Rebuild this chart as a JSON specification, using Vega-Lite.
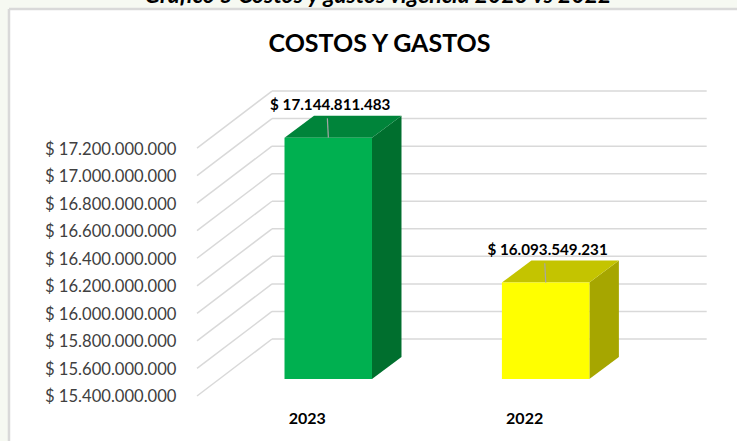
{
"$schema":"https://vega.github.io/schema/vega-lite/v6.json",
"width":737,"height":441,"padding":0,
"autosize":{"type":"none"},
"background":"#ffffff",
"config":{"view":{"stroke":null},"font":"Lato"},
"datasets":{
 "bars":[{"year":"2023","value":17144811483,"order":1},{"year":"2022","value":16093549231,"order":2}],
 "ticks":[{"tick":15400000000},{"tick":15600000000},{"tick":15800000000},{"tick":16000000000},{"tick":16200000000},{"tick":16400000000},{"tick":16600000000},{"tick":16800000000},{"tick":17000000000},{"tick":17200000000}]
},
"layer":[
 {"data":{"values":[{"a":-0.50989,"b":2.88018,"c":18.2096e9,"d":18.27477e9},{"a":-0.50989,"b":-0.4685,"c":15.07332e9,"d":18.27477e9}]},
  "mark":{"type":"rect","color":"#f6f9f2"},
  "encoding":{"x":{"field":"a","type":"quantitative","scale":{"domain":[-0.50989,2.88018],"range":[0,737],"nice":false,"zero":false},"axis":null},"x2":{"field":"b"},
   "y":{"field":"c","type":"quantitative","scale":{"domain":[15.07332e9,18.27477e9],"range":[441,0],"nice":false,"zero":false},
     "axis":{"values":[15400000000,15600000000,15800000000,16000000000,16200000000,16400000000,16600000000,16800000000,17000000000,17200000000],"title":null,"domain":false,"ticks":false,"grid":false,"labelPadding":-176,"labelOffset":1,"labelFontSize":16.6,"labelColor":"#404040","labelFont":"Lato","labelBound":false,"labelOverlap":false,"labelExpr":"'$ ' + replace(format(datum.value,',.0f'), regexp(',','g'), '.')"}},
   "y2":{"field":"d"}}},
 {"data":{"values":[{"a":-0.4685,"b":2.88018,"c":18.2096e9},{"a":-0.4685,"b":-0.4685,"c":15.07332e9}]},
  "mark":{"type":"rule","color":"#d9d9d9","strokeWidth":2.5},
  "encoding":{"x":{"field":"a","type":"quantitative"},"x2":{"field":"b"},"y":{"field":"c","type":"quantitative"},"y2":{"datum":18.2096e9}}},
 {"data":{"values":[{"t":"Gráfico 5 Costos y gastos vigencia 2023 vs 2022"}]},
  "mark":{"type":"text","font":"Lato","fontSize":23,"fontWeight":"bold","fontStyle":"italic","color":"#000000","align":"center","baseline":"alphabetic"},
  "encoding":{"x":{"datum":1.2288},"y":{"datum":18.2530e9},"text":{"field":"t"}}},
 {"data":{"values":[{"t":"COSTOS Y GASTOS"}]},
  "mark":{"type":"text","font":"Lato","fontSize":25,"fontWeight":"bold","color":"#000000","align":"center","baseline":"middle"},
  "encoding":{"x":{"datum":1.2357},"y":{"datum":17.9553e9},"text":{"field":"t"}}},
 {"data":{"name":"ticks"},
  "transform":[{"calculate":"datum.tick+413.8e6","as":"back"}],
  "mark":{"type":"rule","color":"#d9d9d9","strokeWidth":1.5},
  "encoding":{"x":{"datum":0.3963},"x2":{"datum":0.7413},"y":{"field":"tick","type":"quantitative"},"y2":{"field":"back"}}},
 {"data":{"name":"ticks"},
  "transform":[{"calculate":"datum.tick+413.8e6","as":"back"}],
  "mark":{"type":"rule","color":"#d9d9d9","strokeWidth":1.5},
  "encoding":{"x":{"datum":0.7413},"x2":{"datum":2.7408},"y":{"field":"back","type":"quantitative"}}},
 {"data":{"name":"bars"},
  "transform":[{"calculate":"[0,1]","as":"d"},{"flatten":["d"]},
   {"calculate":"datum.order+0.2012+datum.d*0.1357","as":"px"},
   {"calculate":"datum.value+130.7e6+datum.d*159.7e6","as":"py"},
   {"calculate":"15.5234e9+datum.d*159.7e6","as":"py2"}],
  "mark":{"type":"area","orient":"vertical"},
  "encoding":{"x":{"field":"px","type":"quantitative"},"y":{"field":"py","type":"quantitative"},"y2":{"field":"py2"},
   "color":{"field":"year","type":"nominal","legend":null,"scale":{"domain":["2023","2022"],"range":["#006F2E","#A6A600"]}}}},
 {"data":{"name":"bars"},
  "transform":[{"calculate":"[0,1]","as":"d"},{"flatten":["d"]},
   {"calculate":"datum.order-0.2012+datum.d*0.1357","as":"px"},
   {"calculate":"datum.order+0.2012+datum.d*0.1357","as":"px2"},
   {"calculate":"datum.value+130.7e6+datum.d*159.7e6","as":"py"}],
  "mark":{"type":"area","orient":"horizontal"},
  "encoding":{"x":{"field":"px","type":"quantitative"},"x2":{"field":"px2"},"y":{"field":"py","type":"quantitative"},
   "color":{"field":"year","type":"nominal","legend":null,"scale":{"domain":["2023","2022"],"range":["#00843A","#C4C400"]}}}},
 {"data":{"name":"bars"},
  "transform":[{"calculate":"datum.order-0.2012","as":"px"},{"calculate":"datum.order+0.2012","as":"px2"},{"calculate":"datum.value+130.7e6","as":"py"}],
  "mark":{"type":"rect"},
  "encoding":{"x":{"field":"px","type":"quantitative"},"x2":{"field":"px2"},"y":{"field":"py","type":"quantitative"},"y2":{"datum":15.5234e9},
   "color":{"field":"year","type":"nominal","legend":null,"scale":{"domain":["2023","2022"],"range":["#00B050","#FFFF00"]}}}},
 {"data":{"name":"bars"},
  "transform":[{"calculate":"datum.order+0.0005","as":"px"},{"calculate":"datum.order-0.004","as":"px2"},{"calculate":"datum.value+130.7e6","as":"py"},{"calculate":"datum.py+140e6","as":"py2"}],
  "mark":{"type":"rule","color":"#a6a6a6","strokeWidth":1.2},
  "encoding":{"x":{"field":"px","type":"quantitative"},"x2":{"field":"px2"},"y":{"field":"py","type":"quantitative"},"y2":{"field":"py2"}}},
 {"data":{"name":"bars"},
  "transform":[{"calculate":"datum.order+0.009","as":"px"},{"calculate":"datum.value+130.7e6+238e6","as":"py"},{"calculate":"'$ ' + replace(format(datum.value,',.0f'), regexp(',','g'), '.')","as":"lab"}],
  "mark":{"type":"text","font":"Lato","fontSize":15.2,"fontWeight":"bold","color":"#000000","align":"center","baseline":"middle"},
  "encoding":{"x":{"field":"px","type":"quantitative"},"y":{"field":"py","type":"quantitative"},"text":{"field":"lab"}}},
 {"data":{"name":"bars"},
  "transform":[{"calculate":"datum.order-0.0966","as":"px"}],
  "mark":{"type":"text","font":"Lato","fontSize":16,"fontWeight":"bold","color":"#000000","align":"center","baseline":"middle"},
  "encoding":{"x":{"field":"px","type":"quantitative"},"y":{"datum":15.233e9},"text":{"field":"year"}}}
],
"resolve":{"scale":{"color":"independent"}}
}
